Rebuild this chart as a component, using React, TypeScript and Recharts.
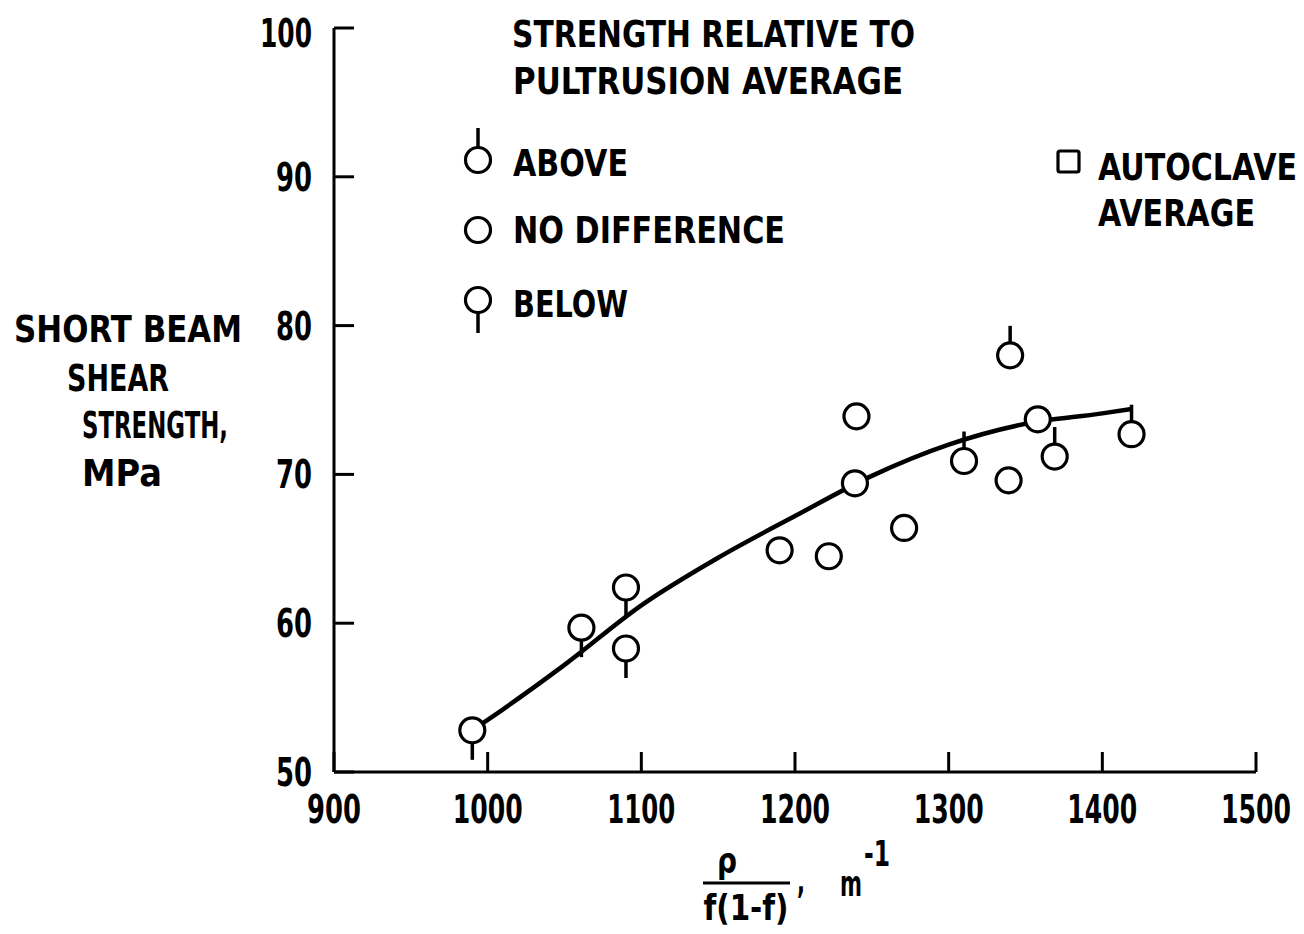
import React from 'react';
import { ComposedChart, Line, Scatter, XAxis, YAxis, Customized } from 'recharts';

const FONT = "'DejaVu Sans', sans-serif";

const xTicks = [900, 1000, 1100, 1200, 1300, 1400, 1500];
const yTicks = [50, 60, 70, 80, 90, 100];

// strength relative to pultrusion average
const aboveAvg = [
  { x: 1310, y: 70.9 },
  { x: 1340, y: 78.0 },
  { x: 1369, y: 71.2 },
  { x: 1419, y: 72.7 },
];

const noDiff = [
  { x: 1190, y: 64.9 },
  { x: 1222, y: 64.5 },
  { x: 1240, y: 73.9 },
  { x: 1239, y: 69.4 },
  { x: 1271, y: 66.4 },
  { x: 1339, y: 69.6 },
  { x: 1358, y: 73.7 },
];

const belowAvg = [
  { x: 990, y: 52.8 },
  { x: 1061, y: 59.7 },
  { x: 1090, y: 62.4 },
  { x: 1090, y: 58.3 },
];

// faired trend curve through the data
const trendCurve = [
  { x: 990, y: 52.8 },
  { x: 1000, y: 53.5 },
  { x: 1050, y: 57.2 },
  { x: 1100, y: 61.2 },
  { x: 1150, y: 64.4 },
  { x: 1200, y: 67.2 },
  { x: 1250, y: 69.9 },
  { x: 1300, y: 72.0 },
  { x: 1350, y: 73.4 },
  { x: 1400, y: 74.1 },
  { x: 1419, y: 74.4 },
];

const R = 12.5;
const STEM = 17;

// circle with an optional stem: -1 up, 1 down, 0 none
const marker = (dir: number) => (props: any) => {
  const { cx, cy } = props;
  return (
    <g>
      {dir !== 0 && (
        <line x1={cx} x2={cx} y1={cy + dir * R} y2={cy + dir * (R + STEM)} stroke="#000" strokeWidth={3.5} />
      )}
      <circle cx={cx} cy={cy} r={R} fill="#fff" stroke="#000" strokeWidth={3.2} />
    </g>
  );
};

// condensed lettering: glyphs squeezed to a set width
const NT = ({ x, y, w, size = 38, anchor = 'start', children }: any) => (
  <text
    x={x}
    y={y}
    fontFamily={FONT}
    fontWeight="bold"
    fontSize={size}
    fill="#000"
    textAnchor={anchor}
    textLength={w}
    lengthAdjust="spacingAndGlyphs"
  >
    {children}
  </text>
);

const numWidth = (s: string) => s.split('').reduce((acc, c) => acc + (c === '1' ? 16 : 18), 0);

const XTick = (props: any) => {
  const label = String(props.payload.value);
  return <NT x={props.x} y={props.y + 25} w={numWidth(label)} size={39} anchor="middle">{label}</NT>;
};

const YTick = (props: any) => {
  const label = String(props.payload.value);
  const drop = props.payload.value === 100 ? 19 : 14;
  return <NT x={props.x} y={props.y + drop} w={numWidth(label)} size={39} anchor="end">{label}</NT>;
};

const Annotations = () => (
  <g>
    {/* legend */}
    <NT x={512} y={47} w={403}>STRENGTH RELATIVE TO</NT>
    <NT x={513} y={94} w={390}>PULTRUSION AVERAGE</NT>

    <line x1={478} x2={478} y1={148} y2={128} stroke="#000" strokeWidth={3.5} />
    <circle cx={478} cy={160} r={R} fill="#fff" stroke="#000" strokeWidth={3.2} />
    <NT x={513} y={176} w={115}>ABOVE</NT>

    <circle cx={478} cy={230} r={R} fill="#fff" stroke="#000" strokeWidth={3.2} />
    <NT x={513} y={243} w={272}>NO DIFFERENCE</NT>

    <circle cx={478} cy={300} r={R} fill="#fff" stroke="#000" strokeWidth={3.2} />
    <line x1={478} x2={478} y1={312} y2={333} stroke="#000" strokeWidth={3.5} />
    <NT x={513} y={317} w={115}>BELOW</NT>

    <rect x={1058} y={151} width={21} height={21} rx={2} fill="#fff" stroke="#000" strokeWidth={3.2} />
    <NT x={1098} y={180} w={199}>AUTOCLAVE</NT>
    <NT x={1098} y={226} w={157}>AVERAGE</NT>

    {/* y axis title */}
    <NT x={14} y={342} w={228}>SHORT BEAM</NT>
    <NT x={67} y={391} w={102}>SHEAR</NT>
    <NT x={82} y={438} w={146}>STRENGTH,</NT>
    <NT x={82} y={486} w={80}>MPa</NT>

    {/* x axis title: rho / f(1-f), m^-1 */}
    <NT x={727} y={873} w={20} size={36} anchor="middle">ρ</NT>
    <line x1={703} x2={790} y1={883} y2={883} stroke="#000" strokeWidth={3} />
    <NT x={746} y={920} w={85} size={36} anchor="middle">f(1-f)</NT>
    <NT x={797} y={893} w={8} size={36}>,</NT>
    <NT x={840} y={896} w={22} size={36}>m</NT>
    <NT x={864} y={866} w={26} size={36}>-1</NT>
  </g>
);

const axisStroke = { stroke: '#000', strokeWidth: 3 };

export default function App() {
  return (
    <div style={{ position: 'absolute', left: 0, top: 0, background: '#fff' }}>
      <ComposedChart width={1304} height={934} margin={{ top: 28, right: 48, bottom: 122, left: 274 }}>
        <XAxis
          type="number"
          dataKey="x"
          domain={[900, 1500]}
          ticks={xTicks}
          interval={0}
          height={40}
          axisLine={axisStroke}
          tickLine={axisStroke}
          tickSize={-20}
          tickMargin={46}
          tick={<XTick />}
          allowDataOverflow
        />
        <YAxis
          type="number"
          dataKey="y"
          domain={[50, 100]}
          ticks={yTicks}
          interval={0}
          width={60}
          axisLine={axisStroke}
          tickLine={axisStroke}
          tickSize={-20}
          tickMargin={42}
          tick={<YTick />}
          allowDataOverflow
        />
        <Line
          data={trendCurve}
          dataKey="y"
          type="monotone"
          stroke="#000"
          strokeWidth={4.5}
          dot={false}
          activeDot={false}
          isAnimationActive={false}
        />
        <Scatter data={noDiff} dataKey="y" shape={marker(0)} isAnimationActive={false} />
        <Scatter data={aboveAvg} dataKey="y" shape={marker(-1)} isAnimationActive={false} />
        <Scatter data={belowAvg} dataKey="y" shape={marker(1)} isAnimationActive={false} />
        <Customized component={Annotations} />
      </ComposedChart>
    </div>
  );
}
